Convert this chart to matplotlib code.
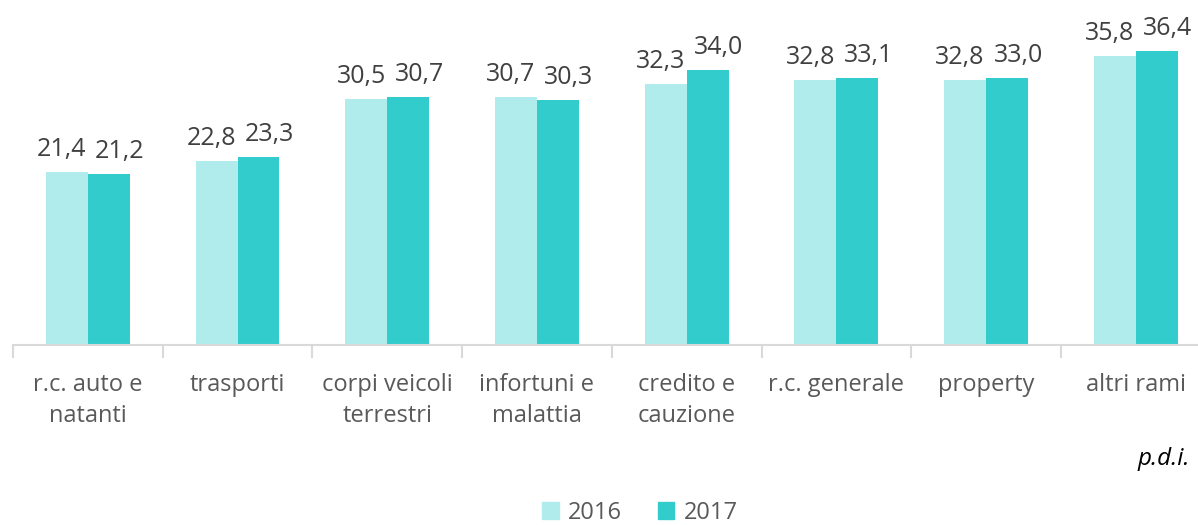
import matplotlib
matplotlib.use("Agg")
import matplotlib.pyplot as plt
from matplotlib.patches import Patch
import numpy as np

categories = ["r.c. auto e\nnatanti", "trasporti", "corpi veicoli\nterrestri",
              "infortuni e\nmalattia", "credito e\ncauzione", "r.c. generale",
              "property", "altri rami"]
values_2016 = [21.4, 22.8, 30.5, 30.7, 32.3, 32.8, 32.8, 35.8]
values_2017 = [21.2, 23.3, 30.7, 30.3, 34.0, 33.1, 33.0, 36.4]
series_names = ["2016", "2017"]

plt.rcParams['font.family'] = ['Open Sans', 'DejaVu Sans']
c16 = "#B0ECEC"
c17 = "#33CCCC"

W, H = 1198, 525
fig = plt.figure(figsize=(W/100, H/100), dpi=100)
left = 13 / W
cat_w = 149.7
n = len(categories)
ax_w = n * cat_w / W
y0 = 345
ymax = 40
pxu = 8.08
ax = fig.add_axes([left, (H - y0) / H, ax_w, ymax * pxu / H])

x = np.arange(n)
bw = 0.28
b1 = ax.bar(x - bw/2, values_2016, bw, color=c16, label=series_names[0])
b2 = ax.bar(x + bw/2, values_2017, bw, color=c17, label=series_names[1])

def fmt(v):
    return f"{v:.1f}".replace(".", ",")

pt = 72 / 100  # points per pixel
bar_px = bw * cat_w
for i in range(n):
    v1, v2 = values_2016[i], values_2017[i]
    # Excel-like separation of the two labels (pixels)
    dx1 = -10.0
    dx2 = 0.0
    if abs(v1 - v2) * pxu < 20:
        sep = bar_px - dx1 + dx2
        if sep < 53:
            dx1 = -5.0
            dx2 = 58 - bar_px - 5.0
        else:
            dx2 = max(0.0, 53 - (bar_px - dx1))
    for xc, v, dx in ((x[i] - bw/2, v1, dx1), (x[i] + bw/2, v2, dx2)):
        ax.annotate(fmt(v), (xc, v), xytext=(dx * pt, 16 * pt),
                    textcoords="offset points", ha="center", va="baseline",
                    fontsize=18, color="#404040", annotation_clip=False)

ax.set_xlim(-0.5, n - 0.5)
ax.set_ylim(0, ymax)
for s in ["top", "right", "left"]:
    ax.spines[s].set_visible(False)
ax.spines["bottom"].set_color("#D9D9D9")
ax.spines["bottom"].set_linewidth(1.5)
ax.set_yticks([])
ax.set_xticks(np.arange(n + 1) - 0.5, minor=False)
ax.set_xticklabels([])
ax.tick_params(axis="x", which="major", length=9, width=1.5, color="#D9D9D9")
ax.set_xticks(x, minor=True)
ax.set_xticklabels(categories, minor=True, fontsize=17, color="#595959", linespacing=1.4)
ax.tick_params(axis="x", which="minor", length=0, pad=20)

fig.text(1190 / W, (H - 465) / H, "p.d.i.", ha="right", va="baseline",
         fontsize=17.5, style="italic", color="black")

handles = [Patch(color=c16), Patch(color=c17)]
fig.legend(handles=handles, labels=series_names, loc="center",
           bbox_to_anchor=(640 / W, (H - 513) / H), ncol=2, frameon=False,
           fontsize=17, labelcolor="#595959", handlelength=0.7, handleheight=0.7,
           handletextpad=0.4, columnspacing=1.5, borderpad=0)

fig.savefig("out.png", dpi=100)
